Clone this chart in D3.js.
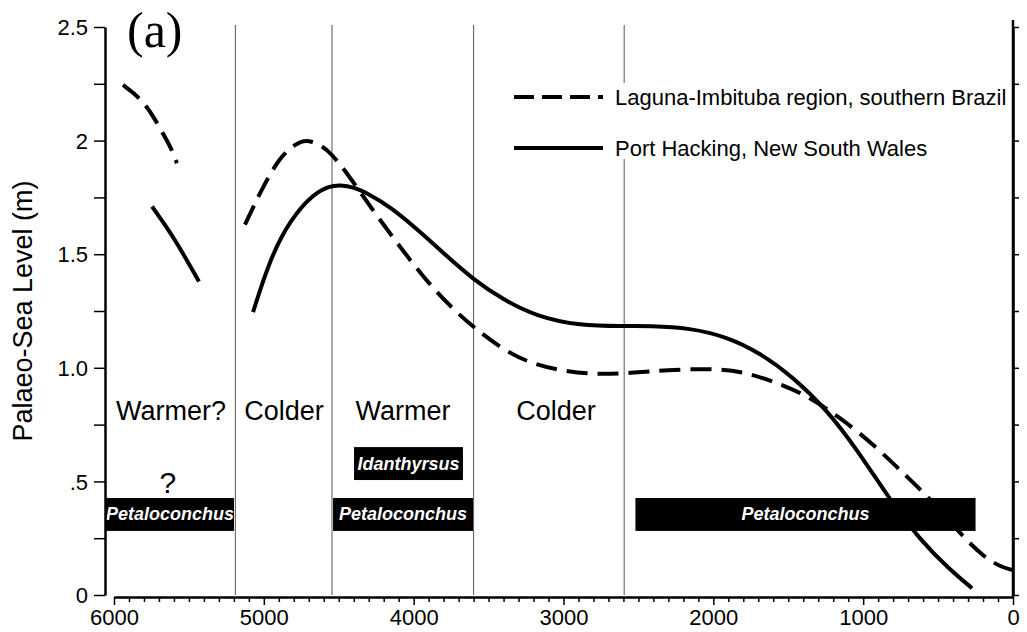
<!DOCTYPE html>
<html>
<head>
<meta charset="utf-8">
<script src="https://cdn.jsdelivr.net/npm/d3@7"></script>
<style>
  body { margin: 0; background: #fff; }
  text { font-family: "Liberation Sans", Arial, sans-serif; fill: #000; }
</style>
</head>
<body>
<script>
// Laguna-Imbituba (dashed), two pieces [years BP, metres]
var lagunaEarly = [[5940,2.245],[5870,2.21],[5806,2.17],[5740,2.11],[5673,2.03],[5620,1.97],[5580,1.90]];
var lagunaLate = [[5126,1.63],[5012,1.79],[4892,1.93],[4780,1.99],[4712,2.005],[4620,1.98],[4558,1.95],
    [4425,1.84],[4291,1.71],[4111,1.55],[3937,1.40],[3757,1.27],[3604,1.18],[3404,1.08],[3223,1.02],
    [3000,0.985],[2776,0.97],[2556,0.977],[2309,0.99],[2022,0.997],[1800,0.985],[1534,0.925],[1354,0.87],
    [1154,0.78],[934,0.665],[707,0.52],[533,0.41],[353,0.27],[200,0.17],[86,0.125],[5,0.11]];
// Port Hacking (solid)
var hackingEarly = [[5746,1.71],[5660,1.63],[5580,1.55],[5433,1.38]];
var hackingLate = [[5072,1.245],[4959,1.48],[4825,1.65],[4672,1.765],[4560,1.80],[4492,1.805],[4400,1.795],
    [4300,1.765],[4158,1.71],[3958,1.60],[3777,1.49],[3604,1.39],[3404,1.30],[3177,1.225],[2890,1.185],
    [2603,1.183],[2422,1.185],[2155,1.175],[1908,1.136],[1688,1.065],[1468,0.96],[1241,0.814],
    [1041,0.64],[820,0.418],[620,0.242],[420,0.11],[273,0.03]];

var dividers = [5190, 4545, 3600, 2595];
var zoneNames = ["Warmer?", "Colder", "Warmer", "Colder"];
var zoneCentres = [5620, 4865, 4071, 3050];

// fossil bars: [from, to, low, high, name]
var bars = [
    [6053, 5199, 0.282, 0.427, "Petaloconchus"],
    [4538, 3604, 0.282, 0.427, "Petaloconchus"],
    [2520, 250, 0.282, 0.427, "Petaloconchus"],
    [4398, 3671, 0.506, 0.651, "Idanthyrsus"]
];

var yTicks = [0, 0.25, 0.5, 0.75, 1, 1.25, 1.5, 1.75, 2, 2.25, 2.5];
var yLabels = {"0": "0", "0.5": ".5", "1": "1.0", "1.5": "1.5", "2": "2", "2.5": "2.5"};
var xMajor = [6000, 5000, 4000, 3000, 2000, 1000, 0];

var legendNames = ["Laguna-Imbituba region, southern Brazil", "Port Hacking, New South Wales"];

var width = 1027, height = 632;
var svg = d3.select("body").append("svg")
    .attr("width", width)
    .attr("height", height);

var x = d3.scaleLinear().domain([6000, 0]).range([114, 1013]);
var y = d3.scaleLinear().domain([0, 2.5]).range([595, 27]);

// zone dividers
svg.selectAll(".divider")
    .data(dividers)
    .enter().append("line")
    .attr("x1", function(d) { return x(d); })
    .attr("x2", function(d) { return x(d); })
    .attr("y1", 25)
    .attr("y2", y(0))
    .attr("stroke", "#555")
    .attr("stroke-width", 1);

// zone labels
svg.selectAll(".zone")
    .data(zoneNames)
    .enter().append("text")
    .attr("x", function(d, i) { return x(zoneCentres[i]); })
    .attr("y", 420)
    .attr("text-anchor", "middle")
    .style("font-size", "27px")
    .text(function(d) { return d; });

svg.append("text")
    .attr("x", x(5640))
    .attr("y", 493)
    .attr("text-anchor", "middle")
    .style("font-size", "30px")
    .text("?");

// fossil bars
var barG = svg.selectAll(".bar")
    .data(bars)
    .enter().append("g");
barG.append("rect")
    .attr("x", function(d) { return x(d[0]); })
    .attr("width", function(d) { return x(d[1]) - x(d[0]); })
    .attr("y", function(d) { return y(d[3]); })
    .attr("height", function(d) { return y(d[2]) - y(d[3]); })
    .attr("fill", "#000");
barG.append("text")
    .attr("x", function(d) { return (x(d[0]) + x(d[1])) / 2; })
    .attr("y", function(d) { return (y(d[2]) + y(d[3])) / 2 + 6; })
    .attr("text-anchor", "middle")
    .style("font-size", "18px")
    .style("font-weight", "bold")
    .style("font-style", "italic")
    .style("fill", "#fff")
    .text(function(d) { return d[4]; });

// curves
var line = d3.line()
    .x(function(d) { return x(d[0]); })
    .y(function(d) { return y(d[1]); })
    .curve(d3.curveBasis);

[lagunaEarly, lagunaLate].forEach(function(seg) {
    svg.append("path")
        .attr("d", line(seg))
        .attr("fill", "none")
        .attr("stroke", "#000")
        .attr("stroke-width", 4)
        .attr("stroke-dasharray", "21,10");
});
[hackingEarly, hackingLate].forEach(function(seg) {
    svg.append("path")
        .attr("d", line(seg))
        .attr("fill", "none")
        .attr("stroke", "#000")
        .attr("stroke-width", 4);
});

// legend (white back hides the divider)
svg.append("rect")
    .attr("x", 505).attr("y", 83)
    .attr("width", 500).attr("height", 76)
    .attr("fill", "#fff");
legendNames.forEach(function(name, i) {
    var ly = 97 + i * 51;
    svg.append("line")
        .attr("x1", 514).attr("x2", 603)
        .attr("y1", ly).attr("y2", ly)
        .attr("stroke", "#000")
        .attr("stroke-width", 4)
        .attr("stroke-dasharray", i == 0 ? "20,8" : null);
    svg.append("text")
        .attr("x", 615)
        .attr("y", ly + 8)
        .style("font-size", "22px")
        .text(name);
});

// left axis
var yAxis = svg.append("g")
    .attr("transform", "translate(105,0)")
    .call(d3.axisLeft(y)
        .tickValues(yTicks)
        .tickSize(11)
        .tickSizeOuter(0)
        .tickFormat(function(d) { return yLabels[String(d)] || ""; }));
yAxis.selectAll("text").style("font-size", "22px").attr("x", -17).attr("dy", "0.35em");

// right axis
var rAxis = svg.append("g")
    .attr("transform", "translate(1013,0)")
    .call(d3.axisRight(y)
        .tickValues(yTicks)
        .tickSize(6)
        .tickSizeOuter(0)
        .tickFormat(""));
svg.append("line")
    .attr("x1", 1013).attr("x2", 1013)
    .attr("y1", 20).attr("y2", 597)
    .attr("stroke", "#000").attr("stroke-width", 2.5);

// bottom axis
var xAxis = svg.append("g")
    .attr("transform", "translate(0,597)")
    .call(d3.axisBottom(x)
        .tickValues(d3.range(0, 6001, 100))
        .tickSize(5)
        .tickSizeOuter(0)
        .tickFormat(function(d) { return xMajor.indexOf(d) >= 0 ? d : ""; }));
xAxis.selectAll(".tick")
    .filter(function(d) { return xMajor.indexOf(d) >= 0; })
    .select("line").attr("y2", 8);
xAxis.selectAll("text").style("font-size", "22px").attr("y", 12);

svg.selectAll(".domain").attr("stroke-width", 2.5);
svg.selectAll(".tick line").attr("stroke-width", 1.5);

// y label
svg.append("text")
    .attr("transform", "translate(32," + y(1.25) + ") rotate(-90)")
    .attr("text-anchor", "middle")
    .style("font-size", "27px")
    .text("Palaeo-Sea Level (m)");

// panel tag
svg.append("text")
    .attr("x", 127)
    .attr("y", 47)
    .style("font-family", "'Liberation Serif', 'Times New Roman', serif")
    .style("font-size", "50px")
    .text("(a)");
</script>
</body>
</html>
